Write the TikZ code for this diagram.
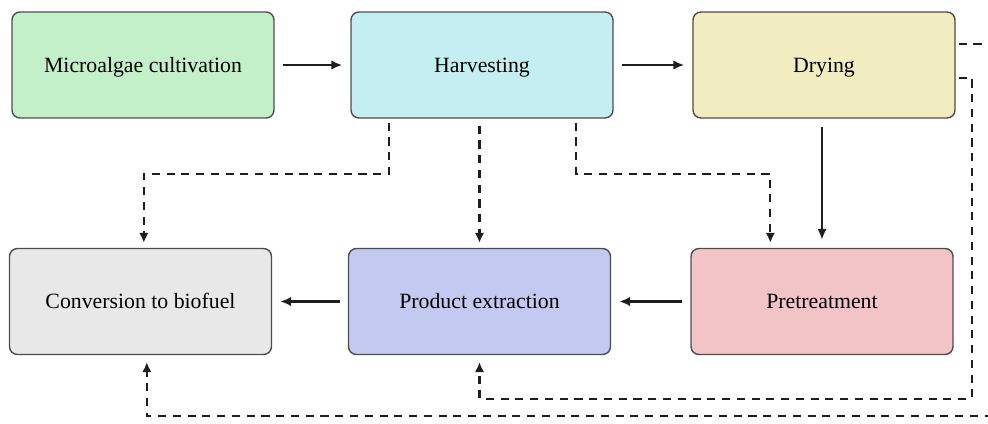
\documentclass[tikz,border=0pt]{standalone}
\usepackage{fontspec}
\setmainfont{Liberation Serif}
\usetikzlibrary{positioning, arrows.meta, calc}
\definecolor{cultGreen}{HTML}{C3F0C9}
\definecolor{harvCyan}{HTML}{C4EEF2}
\definecolor{dryYellow}{HTML}{F1EDC1}
\definecolor{convGray}{HTML}{E8E8E8}
\definecolor{extrBlue}{HTML}{C3C9F0}
\definecolor{pretPink}{HTML}{F2C3C7}
\definecolor{edgeGray}{HTML}{4D4D4D}
\definecolor{inkDark}{HTML}{1E1E1E}

\begin{document}
\begin{tikzpicture}[
  x=0.02cm, y=-0.02cm,
  font=\rmfamily\fontsize{12.4}{15}\selectfont,
  stage/.style={rectangle, rounded corners=4.5pt, draw=edgeGray, line width=0.8pt,
                minimum width=5.24cm, minimum height=2.12cm, inner sep=0pt,
                text height=8.2pt, text depth=0pt},
  flow/.style={-{Latex[length=2.2mm, width=1.9mm]}, line width=1.3pt, draw=inkDark,
               shorten <=0.16cm, shorten >=0.16cm},
  side/.style={-{Latex[length=2mm, width=1.9mm]}, line width=1.3pt, draw=inkDark,
               dash pattern=on 4.6pt off 3.8pt},
]
\path[use as bounding box, clip] (0,0) rectangle (988,423);

% ===== top row ==============================================================
\node[stage, fill=cultGreen] (cultiv)  at (143,65)  {Microalgae cultivation};
\node[stage, fill=harvCyan]  (harvest) at (482,65)  {Harvesting};
\node[stage, fill=dryYellow] (drying)  at (824,65)  {Drying};

% ===== bottom row ===========================================================
\node[stage, fill=convGray]  (convert)  at (140.5,301.5) {Conversion to biofuel};
\node[stage, fill=extrBlue]  (extract)  at (479.5,301.5) {Product extraction};
\node[stage, fill=pretPink]  (pretreat) at (822,301.5)   {Pretreatment};

% ===== main route ===========================================================
\draw[flow] (cultiv) -- (harvest);
\draw[flow] (harvest) -- (drying);
\draw[flow] (pretreat.north |- drying.south) -- (pretreat.north);
\draw[flow] (pretreat) -- (extract);
\draw[flow] (extract) -- (convert);

% ===== side routes ==========================================================
\draw[side] ($(harvest.south west)+(39,4)$) -- ++(0,51)
  -| ($(convert.north west)+(135,-5)$);
\draw[side] ($(extract.north |- harvest.south)+(0,7)$) -- ($(extract.north)+(0,-5)$);
\draw[side] ($(harvest.south west)+(226,4)$) -- ++(0,51)
  -| ($(pretreat.north west)+(80,-5)$);
\draw[side] ($(drying.south east)+(3,-41)$) -- ++(13,0) -- ++(0,321)
  -| ($(extract.south)+(0,7)$);
\draw[side] ($(drying.north east)+(3,33)$) -- ++(45,0) -- ++(0,372)
  -| ($(convert.south west)+(138,7)$);

\end{tikzpicture}
\end{document}
